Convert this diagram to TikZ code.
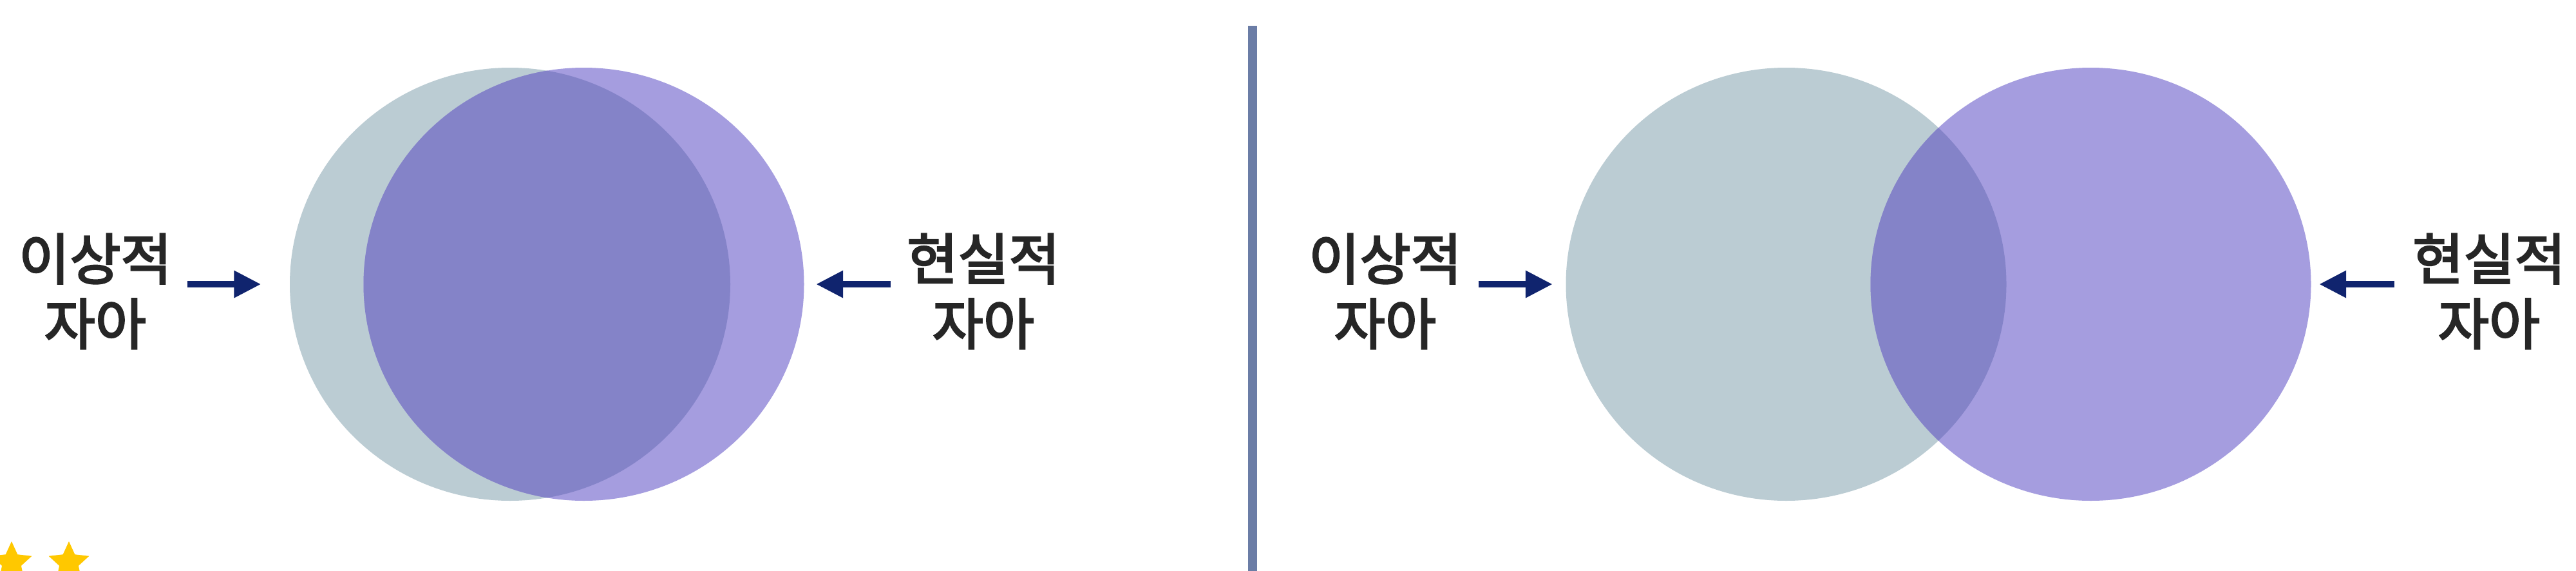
\documentclass[tikz,border=0pt]{standalone}
\usepackage{fontspec}
\setmainfont{Noto Sans CJK KR}
\newfontfamily\kofont[FakeBold=3]{Noto Sans CJK KR}
\usepackage{tikz}
\usetikzlibrary{arrows.meta}
\usetikzlibrary{shapes.geometric}
\usetikzlibrary{positioning}

\definecolor{idealgrey}{HTML}{BBCCD3}
\definecolor{realviolet}{HTML}{A59DDF}
\definecolor{mixviolet}{HTML}{8483C8}
\definecolor{arrownavy}{HTML}{10246E}
\definecolor{dividerblue}{HTML}{6B7DA6}
\definecolor{textgrey}{HTML}{262626}
\definecolor{stargold}{HTML}{FFC800}

\begin{document}
\begin{tikzpicture}[
        ideal/.style={ellipse,fill=idealgrey,draw=none,minimum width=6.84cm,minimum height=6.72cm,inner sep=0pt},
        real/.style={ideal,fill=realviolet},
        label/.style={align=center,inner sep=0pt,text=textgrey,font=\kofont\fontsize{24.5}{28.7}\selectfont},
        pointer/.style={-{Triangle[length=0.42cm,width=0.40cm]},line width=0.1cm,draw=arrownavy},
        gold/.style={star,star points=5,star point ratio=2.1,fill=stargold,minimum size=0.66cm,inner sep=0pt},
  ]
    \useasboundingbox (0,0) rectangle (40,8.85);
    \fill[white] (0,0) rectangle (40,8.85);

    % left half: ideal and real self almost coincide
    \node[ideal] (idealL) at (7.92,4.44) {};
    \node[real] (realL) at (9.065,4.44) {};
    \begin{scope}
        \clip (idealL.center) ellipse [x radius=3.42cm,y radius=3.36cm];
        \fill[mixviolet] (realL.center) ellipse [x radius=3.42cm,y radius=3.36cm];
    \end{scope}

    \node[label] (idealLtxt) at (1.48,4.33) {이상적\\자아};
    \node[label] (realLtxt) at (15.27,4.33) {현실적\\자아};

    \draw[pointer,shorten <=0.23cm,shorten >=0.44cm] (idealLtxt.east |- idealL.west) -- (idealL.west);
    \draw[pointer,shorten <=0.24cm,shorten >=0.18cm] (realLtxt.west |- realL.east) -- (realL.east);

    % divider
    \draw[dividerblue,line width=0.14cm] (19.45,8.45) -- (19.45,-0.1);

    % right half: the two selves drift apart
    \node[ideal] (idealR) at (27.735,4.44) {};
    \node[real] (realR) at (32.465,4.44) {};
    \begin{scope}
        \clip (idealR.center) ellipse [x radius=3.42cm,y radius=3.36cm];
        \fill[mixviolet] (realR.center) ellipse [x radius=3.42cm,y radius=3.36cm];
    \end{scope}

    \node[label] (idealRtxt) at (21.51,4.33) {이상적\\자아};
    \node[label] (realRtxt) at (38.65,4.33) {현실적\\자아};

    \draw[pointer,shorten <=0.25cm,shorten >=0.20cm] (idealRtxt.east |- idealR.west) -- (idealR.west);
    \draw[pointer,shorten <=0.28cm,shorten >=0.12cm] (realRtxt.west |- realR.east) -- (realR.east);

    % stars, cut by the lower edge
    \node[gold] (star1) at (0.18,0.12) {};
    \node[gold] (star2) at (1.07,0.12) {};
\end{tikzpicture}
\end{document}
